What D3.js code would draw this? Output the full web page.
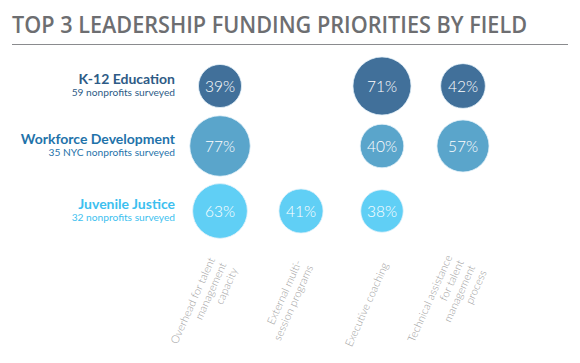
<!DOCTYPE html>
<html lang="en">
<head>
<meta charset="UTF-8">
<script src="https://d3js.org/d3.v7.min.js"></script>
<title>Top 3 Leadership Funding Priorities by Field</title>
<style>
    body { margin: 0; background: #fff; }
    svg { display: block; }
    .title { font-family: "Open Sans", sans-serif; font-weight: 600; fill: #6d6e71; }
    .field { font-family: Lato, sans-serif; font-weight: 700; }
    .sub { font-family: Lato, sans-serif; font-weight: 400; }
    .pct { font-family: Lato, sans-serif; font-weight: 300; fill: #fff; }
    .col { font-family: Lato, sans-serif; font-weight: 300; fill: #a0a0a0; }
</style>
</head>
<body>
<script>
    // data
    const fields = ["K-12 Education", "Workforce Development", "Juvenile Justice"];
    const surveyed = ["59 nonprofits surveyed", "35 NYC nonprofits surveyed", "32 nonprofits surveyed"];
    const priorities = [
        ["Overhead for talent", "management", "capacity"],
        ["External multi-", "session programs"],
        ["Executive coaching"],
        ["Technical assistance", "for talent", "management", "process"]
    ];
    // one row per field, one value per priority (null = not in top 3)
    const values = [
        [39, null, 71, 42],
        [77, null, 40, 57],
        [63, 41, 38, null]
    ];
    const fieldFill = ["#41709a", "#5aa5cb", "#60cff5"];
    const fieldText = ["#2e5b86", "#1f73aa", "#3dbfef"];

    const width = 580, height = 363;
    const svg = d3.select("body").append("svg")
        .attr("width", width)
        .attr("height", height);

    // title and rule
    svg.append("text")
        .attr("class", "title")
        .attr("x", 12)
        .attr("y", 33)
        .attr("font-size", 23)
        .attr("textLength", 515)
        .attr("lengthAdjust", "spacingAndGlyphs")
        .text("TOP 3 LEADERSHIP FUNDING PRIORITIES BY FIELD");
    svg.append("line")
        .attr("x1", 12).attr("x2", 568)
        .attr("y1", 44.5).attr("y2", 44.5)
        .attr("stroke", "#8a8b8e")
        .attr("stroke-width", 1.2);

    // scales
    const colIdx = d3.range(priorities.length);
    const x = d3.scalePoint().domain(colIdx).range([220, 463]);
    const y = d3.scaleOrdinal().domain(fields).range([86, 146, 211]);
    const r = d3.scaleSqrt().domain([0, 100]).range([0, 34.5]);

    // row labels
    const rows = svg.selectAll("g.row")
        .data(fields)
        .enter().append("g")
        .attr("class", "row");
    rows.append("text")
        .attr("class", "field")
        .attr("x", 175)
        .attr("y", d => y(d) - 2)
        .attr("text-anchor", "end")
        .attr("font-size", 14)
        .attr("fill", (d, i) => fieldText[i])
        .text(d => d);
    rows.append("text")
        .attr("class", "sub")
        .attr("x", 175)
        .attr("y", d => y(d) + 10)
        .attr("text-anchor", "end")
        .attr("font-size", 10.2)
        .attr("fill", (d, i) => fieldText[i])
        .text((d, i) => surveyed[i]);

    // bubbles
    const cells = [];
    values.forEach((row, i) => row.forEach((v, j) => {
        if (v != null) cells.push({ field: fields[i], fi: i, col: j, v: v });
    }));
    const bubbles = svg.selectAll("g.bubble")
        .data(cells)
        .enter().append("g")
        .attr("class", "bubble")
        .attr("transform", d => `translate(${x(d.col)},${y(d.field)})`);
    bubbles.append("circle")
        .attr("r", d => r(d.v))
        .attr("fill", d => fieldFill[d.fi])
        .attr("stroke", "#e6f3fa")
        .attr("stroke-width", 0.8);
    bubbles.append("text")
        .attr("class", "pct")
        .attr("text-anchor", "middle")
        .attr("dy", "0.36em")
        .attr("font-size", 15.5)
        .text(d => d.v + "%");

    // rotated column labels
    const lh = 12.5;
    const cols = svg.selectAll("text.col")
        .data(priorities)
        .enter().append("text")
        .attr("class", "col")
        .attr("font-size", 11)
        .attr("text-anchor", "end")
        .attr("transform", (d, i) => `translate(${x(i) + 3},263) rotate(-66)`);
    cols.selectAll("tspan")
        .data(d => d.map((t, k) => ({ t: t, k: k, n: d.length })))
        .enter().append("tspan")
        .attr("x", 0)
        .attr("y", d => (d.k - (d.n - 1) / 2) * lh + 4)
        .text(d => d.t);
</script>
</body>
</html>
